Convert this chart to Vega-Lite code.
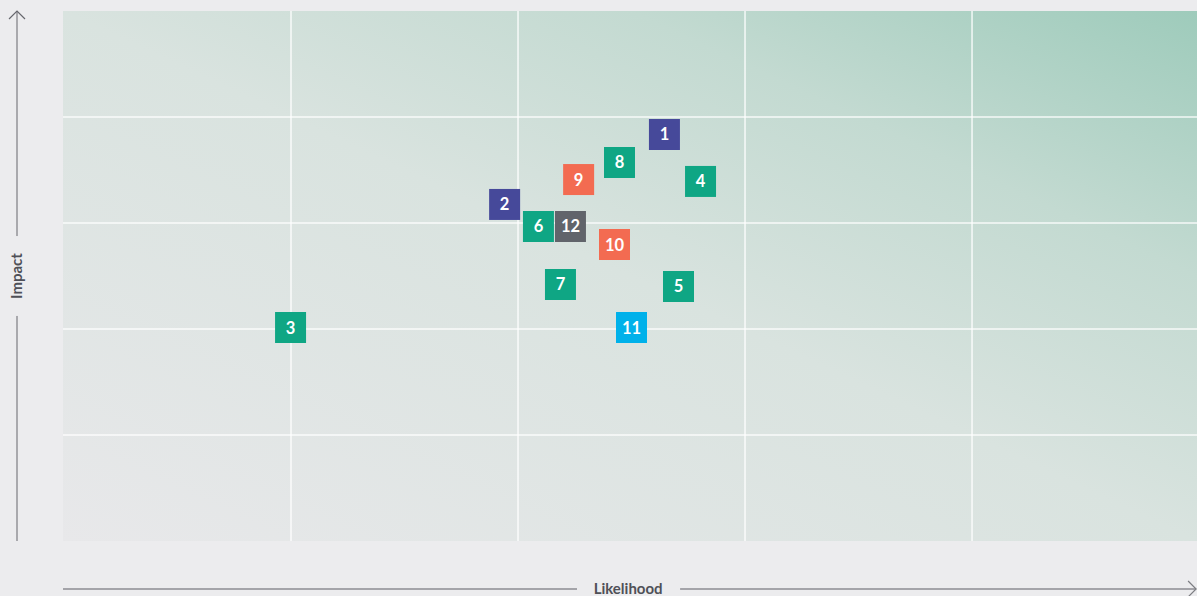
{
  "$schema": "https://vega.github.io/schema/vega-lite/v6.json",
  "width": 1134,
  "height": 530,
  "autosize": {"type": "none"},
  "padding": {"left": 63, "top": 11, "right": 0, "bottom": 55},
  "background": "#ececee",
  "config": {"view": {"stroke": null}},
  "datasets": {
    "risks": [
      {"id": "1", "likelihood": 2.645, "impact": 3.835, "group": "A"},
      {"id": "2", "likelihood": 1.941, "impact": 3.175, "group": "A"},
      {"id": "3", "likelihood": 0.998, "impact": 2.014, "group": "B"},
      {"id": "4", "likelihood": 2.804, "impact": 3.392, "group": "B"},
      {"id": "5", "likelihood": 2.707, "impact": 2.401, "group": "B"},
      {"id": "6", "likelihood": 2.090, "impact": 2.967, "group": "B"},
      {"id": "7", "likelihood": 2.187, "impact": 2.420, "group": "B"},
      {"id": "8", "likelihood": 2.447, "impact": 3.571, "group": "B"},
      {"id": "9", "likelihood": 2.267, "impact": 3.410, "group": "C"},
      {"id": "10", "likelihood": 2.425, "impact": 2.797, "group": "C"},
      {"id": "11", "likelihood": 2.500, "impact": 2.014, "group": "D"},
      {"id": "12", "likelihood": 2.231, "impact": 2.967, "group": "E"}
    ],
    "grid": [{"v": 1}, {"v": 2}, {"v": 3}, {"v": 4}],
    "one": [{"k": 0}]
  },
  "layer": [
    {
      "data": {"name": "one"},
      "mark": {
        "type": "rect",
        "fill": {
          "gradient": "linear",
          "x1": 0, "y1": 1, "x2": 1, "y2": 0,
          "stops": [
            {"offset": 0, "color": "#e8e8ea"},
            {"offset": 0.5, "color": "#d9e3df"},
            {"offset": 0.75, "color": "#c3dad1"},
            {"offset": 1, "color": "#9ecbbb"}
          ]
        }
      },
      "encoding": {
        "x": {"datum": -0.0044, "type": "quantitative", "scale": {"domain": [-0.0044, 4.991], "nice": false, "zero": false}, "axis": null},
        "x2": {"datum": 4.991},
        "y": {"datum": 0, "type": "quantitative", "scale": {"domain": [0, 5], "nice": false, "zero": false}, "axis": null},
        "y2": {"datum": 5}
      }
    },
    {
      "data": {"name": "grid"},
      "mark": {"type": "rule", "color": "#ffffff", "strokeWidth": 1.5, "opacity": 0.85},
      "encoding": {"x": {"field": "v", "type": "quantitative"}}
    },
    {
      "data": {"name": "grid"},
      "mark": {"type": "rule", "color": "#ffffff", "strokeWidth": 1.5, "opacity": 0.85},
      "encoding": {"y": {"field": "v", "type": "quantitative"}}
    },
    {
      "data": {"name": "one"},
      "mark": {"type": "rule", "color": "#66676d", "strokeWidth": 1},
      "encoding": {"x": {"datum": -0.207}, "y": {"datum": 5}, "y2": {"datum": 2.877}}
    },
    {
      "data": {"name": "one"},
      "mark": {"type": "rule", "color": "#66676d", "strokeWidth": 1},
      "encoding": {"x": {"datum": -0.207}, "y": {"datum": 2.123}, "y2": {"datum": 0}}
    },
    {
      "data": {"name": "one"},
      "mark": {"type": "rule", "color": "#8c8d92", "strokeWidth": 1.3},
      "encoding": {"y": {"datum": -0.4528}, "x": {"datum": -0.0044}, "x2": {"datum": 2.26}}
    },
    {
      "data": {"name": "one"},
      "mark": {"type": "rule", "color": "#8c8d92", "strokeWidth": 1.3},
      "encoding": {"y": {"datum": -0.4528}, "x": {"datum": 2.714}, "x2": {"datum": 4.987}}
    },
    {
      "data": {"name": "one"},
      "mark": {"type": "point", "shape": "M-1,1L0,0L1,1", "size": 256, "filled": false, "stroke": "#66676d", "strokeWidth": 1.2, "opacity": 1},
      "encoding": {"x": {"datum": -0.207}, "y": {"datum": 5}}
    },
    {
      "data": {"name": "one"},
      "mark": {"type": "point", "shape": "M-1,-1L0,0L-1,1", "size": 256, "filled": false, "stroke": "#7c7d82", "strokeWidth": 1.2, "opacity": 1},
      "encoding": {"x": {"datum": 4.987}, "y": {"datum": -0.4528}}
    },
    {
      "data": {"name": "one"},
      "mark": {"type": "text", "text": "Likelihood", "font": "Lato", "fontWeight": "bold", "fontSize": 15, "color": "#4f5057", "baseline": "middle", "align": "center"},
      "encoding": {"x": {"datum": 2.485}, "y": {"datum": -0.452}}
    },
    {
      "data": {"name": "one"},
      "mark": {"type": "text", "text": "Impact", "font": "Lato", "fontWeight": "bold", "fontSize": 15, "color": "#4f5057", "baseline": "middle", "align": "center", "angle": 270},
      "encoding": {"x": {"datum": -0.207}, "y": {"datum": 2.5}}
    },
    {
      "data": {"name": "risks"},
      "mark": {"type": "point", "shape": "square", "size": 961, "filled": true, "opacity": 1, "strokeWidth": 0},
      "encoding": {
        "x": {"field": "likelihood", "type": "quantitative"},
        "y": {"field": "impact", "type": "quantitative"},
        "color": {
          "field": "group", "type": "nominal",
          "scale": {"domain": ["A", "B", "C", "D", "E"], "range": ["#46499a", "#0fa684", "#f36b51", "#00b1ea", "#61646b"]},
          "legend": null
        }
      }
    },
    {
      "data": {"name": "risks"},
      "mark": {"type": "text", "font": "Lato", "fontWeight": "bold", "fontSize": 16.5, "color": "#ffffff", "baseline": "middle", "align": "center", "dy": 1},
      "encoding": {
        "x": {"field": "likelihood", "type": "quantitative"},
        "y": {"field": "impact", "type": "quantitative"},
        "text": {"field": "id", "type": "nominal"}
      }
    }
  ]
}
